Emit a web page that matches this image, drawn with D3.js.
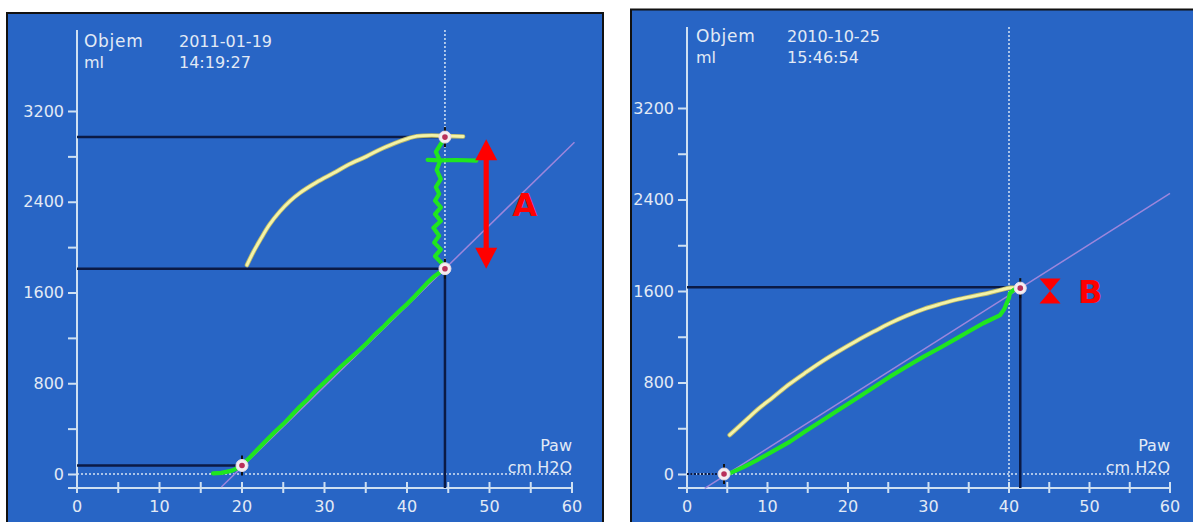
<!DOCTYPE html>
<html>
<head>
<meta charset="utf-8">
<script src="https://cdn.jsdelivr.net/npm/d3@7"></script>
<style>
  html, body { margin: 0; padding: 0; background: #ffffff; }
  svg { display: block; }
  text { font-family: "DejaVu Sans", sans-serif; }
</style>
</head>
<body>
<svg id="chart" width="1193" height="522"></svg>
<script>
// ---- axis ticks ----
const pressureTicks = [0, 10, 20, 30, 40, 50, 60];
const pressureMinorTicks = [5, 15, 25, 35, 45, 55];
const volumeTicks = [0, 800, 1600, 2400, 3200];
const volumeMinorTicks = [400, 1200, 2000, 2800];

// ---- panel A (2011-01-19): pressure [cmH2O], volume [ml] ----
const yellowLimbA = [
  [20.6, 1842], [21.4, 1960], [22.2, 2063], [23.3, 2195], [24.6, 2315], [25.8, 2405],
  [27.0, 2477], [29.0, 2570], [31.1, 2653], [33.0, 2730], [35.1, 2800], [37.0, 2870],
  [39.2, 2935], [40.2, 2960], [41.2, 2978], [43.0, 2985], [44.6, 2980], [46.8, 2975]
];
const greenLimbA = [
  [16.5, 5], [17.5, 10], [18.8, 30], [19.5, 55], [20.0, 80], [21.0, 150], [22.0, 225],
  [23.0, 300], [24.0, 372], [25.0, 440], [26.0, 515], [27.0, 593], [28.0, 662],
  [29.0, 740], [30.0, 808], [31.1, 885], [32.0, 948], [33.0, 1012], [34.0, 1078],
  [35.1, 1152], [36.0, 1222], [37.0, 1288], [38.0, 1362], [39.2, 1446], [40.0, 1498],
  [41.0, 1572], [42.4, 1681], [43.3, 1742], [44.6, 1810],
  [44.2, 1860], [43.4, 1920], [44.1, 1980], [43.3, 2040], [43.9, 2100], [43.2, 2170],
  [44.1, 2230], [43.4, 2290], [44.1, 2350], [43.4, 2410], [43.9, 2470], [43.5, 2530],
  [44.1, 2600], [43.6, 2680], [44.0, 2760], [43.5, 2840], [44.1, 2910], [44.6, 2970]
];
const greenSpurA = [[42.5, 2770], [44.0, 2765], [46.0, 2768], [48.4, 2762]];
const complianceLineA = [[17.5, -115], [60.3, 2925]];
const markersA = [[20.0, 75], [44.6, 1810], [44.6, 2970]];
const levelsA = [[75, 20.0], [1810, 44.6], [2970, 44.6]];   // [volume, pressure at end]
const cursorA = 44.6;
const dropA = [44.6, 1810];
const gapArrowA = { p: 49.6, from: 2950, to: 1810, labelP: 54.3, label: "A" };

// ---- panel B (2010-10-25) ----
const yellowLimbB = [
  [5.3, 341], [6.6, 424], [7.7, 495], [8.7, 560], [10.7, 672], [12.8, 790], [14.8, 890],
  [16.9, 990], [19.0, 1080], [21.1, 1165], [23.2, 1245], [25.2, 1318], [27.3, 1385],
  [29.4, 1442], [31.5, 1487], [33.5, 1525], [35.6, 1556], [37.6, 1585], [39.0, 1610],
  [40.1, 1628], [41.4, 1625]
];
const greenLimbB = [
  [4.9, 0], [5.3, 6], [7.0, 60], [8.7, 122], [10.7, 200], [12.8, 283], [14.8, 378],
  [16.9, 472], [19.0, 568], [21.1, 662], [23.2, 758], [25.2, 851], [27.3, 940],
  [29.4, 1026], [31.5, 1106], [33.5, 1186], [35.2, 1255], [36.8, 1318], [38.9, 1390],
  [39.4, 1440], [39.7, 1492], [40.0, 1540], [40.1, 1580], [40.6, 1610], [41.2, 1623]
];
const complianceLineB = [[2.2, -125], [60.0, 2454]];
const markersB = [[4.6, 0], [41.4, 1625]];
const levelsB = [[1632, 41.4]];
const cursorB = 40.0;
const dropB = [41.4, 1625];
const gapArrowB = { p: 45.1, from: 1600, to: 1600, labelP: 50.1, label: "B" };

const svg = d3.select("#chart");

const COL = {
  bg: "#2865c5",
  axis: "#cfe0f2",
  text: "#e2eaf5",
  dark: "#0b1a45",
  yellow: "#f4f3a8",
  yellowEdge: "#b9b86a",
  green: "#1fe61f",
  purple: "#9d86dc",
  red: "#ff0000"
};

function drawPanel(cfg) {
  const g = svg.append("g");

  // frame
  g.append("rect")
    .attr("x", cfg.frame[0]).attr("y", cfg.frame[1])
    .attr("width", cfg.frame[2]).attr("height", cfg.frame[3])
    .attr("fill", COL.bg).attr("stroke", "#111").attr("stroke-width", 2);

  const x = d3.scaleLinear().domain([0, 60]).range(cfg.xRange);
  const y = d3.scaleLinear().domain([0, 3200]).range(cfg.yRange);
  const axisY = y(0) + 14;
  const x0 = x(0);

  // y axis
  const yAxis = d3.axisLeft(y)
    .tickValues(volumeTicks.concat(volumeMinorTicks))
    .tickSize(9).tickPadding(4)
    .tickFormat(d => volumeTicks.includes(d) ? d : "");
  const ya = g.append("g").attr("transform", `translate(${x0},0)`).call(yAxis);
  ya.select(".domain").remove();
  ya.selectAll("line").attr("stroke", COL.axis).attr("stroke-width", 2);
  ya.selectAll("text").attr("fill", COL.text).attr("font-size", 16)
    .attr("font-family", "DejaVu Sans, sans-serif");
  g.append("line").attr("x1", x0).attr("x2", x0)
    .attr("y1", cfg.axisTop).attr("y2", axisY)
    .attr("stroke", COL.axis).attr("stroke-width", 2);

  // x axis
  g.append("line").attr("x1", x0 - 9).attr("x2", x(60))
    .attr("y1", axisY).attr("y2", axisY)
    .attr("stroke", COL.axis).attr("stroke-width", 2);
  const xa = g.append("g").attr("transform", `translate(0,${axisY})`);
  xa.selectAll("line.tk").data(pressureTicks.concat(pressureMinorTicks)).join("line")
    .attr("class", "tk")
    .attr("x1", d => x(d)).attr("x2", d => x(d))
    .attr("y1", -6).attr("y2", 5)
    .attr("stroke", COL.axis).attr("stroke-width", 2);
  xa.selectAll("text").data(pressureTicks).join("text")
    .attr("x", d => x(d)).attr("y", 24)
    .attr("text-anchor", "middle")
    .attr("fill", COL.text).attr("font-size", 16)
    .text(d => d);

  // header texts
  const hdr = g.append("g").attr("fill", COL.text).attr("font-size", 16);
  hdr.append("text").attr("x", x0 + cfg.hdrDx).attr("y", cfg.hdrY)
    .attr("font-size", 17).attr("letter-spacing", 0.7).text("Objem");
  hdr.append("text").attr("x", x0 + cfg.hdrDx).attr("y", cfg.hdrY + 21).text("ml");
  hdr.append("text").attr("x", x0 + cfg.dateDx).attr("y", cfg.hdrY).text(cfg.date);
  hdr.append("text").attr("x", x0 + cfg.dateDx).attr("y", cfg.hdrY + 21).text(cfg.time);
  hdr.append("text").attr("x", x(60)).attr("y", y(0) - 23)
    .attr("text-anchor", "end").text("Paw");
  hdr.append("text").attr("x", x(60)).attr("y", y(0) - 1)
    .attr("text-anchor", "end").text("cm H2O");

  // zero line (dotted)
  g.append("line").attr("x1", x0).attr("x2", x(60))
    .attr("y1", y(0)).attr("y2", y(0))
    .attr("stroke", "#d6e4f4").attr("stroke-width", 1.5)
    .attr("stroke-dasharray", "2,2");

  // cursor (dotted vertical)
  g.append("line").attr("x1", x(cfg.cursor)).attr("x2", x(cfg.cursor))
    .attr("y1", cfg.axisTop).attr("y2", axisY)
    .attr("stroke", "#d6e4f4").attr("stroke-width", 1.5)
    .attr("stroke-dasharray", "2,2");

  // reference levels
  g.selectAll("line.lvl").data(cfg.levels).join("line")
    .attr("class", "lvl")
    .attr("x1", x0).attr("x2", d => x(d[1]))
    .attr("y1", d => y(d[0])).attr("y2", d => y(d[0]))
    .attr("stroke", COL.dark).attr("stroke-width", 2.5);
  if (cfg.zeroLevel) {
    g.append("line").attr("x1", x0).attr("x2", x(cfg.zeroLevel))
      .attr("y1", y(0)).attr("y2", y(0))
      .attr("stroke", COL.dark).attr("stroke-width", 2)
      .attr("stroke-dasharray", "2,1.5");
  }
  g.append("line").attr("x1", x(cfg.drop[0])).attr("x2", x(cfg.drop[0]))
    .attr("y1", y(cfg.drop[1])).attr("y2", axisY)
    .attr("stroke", COL.dark).attr("stroke-width", 2.5);

  // compliance line
  const line = d3.line().x(d => x(d[0])).y(d => y(d[1]));
  const smooth = d3.line().x(d => x(d[0])).y(d => y(d[1])).curve(d3.curveCatmullRom.alpha(0.5));
  g.append("path").attr("d", line(cfg.compliance))
    .attr("fill", "none").attr("stroke", COL.purple).attr("stroke-width", 1.5);

  // loop limbs
  g.append("path").attr("d", smooth(cfg.yellow))
    .attr("fill", "none").attr("stroke", COL.yellowEdge).attr("stroke-width", 4.5)
    .attr("stroke-linejoin", "round").attr("stroke-linecap", "round");
  g.append("path").attr("d", smooth(cfg.yellow))
    .attr("fill", "none").attr("stroke", COL.yellow).attr("stroke-width", 2.8)
    .attr("stroke-linejoin", "round").attr("stroke-linecap", "round");
  cfg.green.forEach(seg => {
    g.append("path").attr("d", line(seg))
      .attr("fill", "none").attr("stroke", COL.green).attr("stroke-width", 4.2)
      .attr("stroke-linejoin", "round").attr("stroke-linecap", "round");
  });

  // markers
  const mk = g.selectAll("g.mk").data(cfg.markers).join("g")
    .attr("class", "mk")
    .attr("transform", d => `translate(${x(d[0])},${y(d[1])})`);
  mk.append("line").attr("y1", -10).attr("y2", 10)
    .attr("stroke", "#111").attr("stroke-width", 2);
  mk.append("circle").attr("r", 6).attr("fill", "#f4eef0")
    .attr("stroke", "#e8dce8").attr("stroke-width", 1);
  mk.append("circle").attr("r", 2.8).attr("fill", "#b8305a");

  // red gap marker
  const a = cfg.arrow;
  const ax = x(a.p);
  const hw = 11, hh = 21, sw = 2.6;
  const yt = y(a.from), yb = y(a.to);
  let d;
  if (yb - yt > 2 * hh) {
    d = `M${ax},${yt} L${ax + hw},${yt + hh} L${ax + sw},${yt + hh} L${ax + sw},${yb - hh}` +
        ` L${ax + hw},${yb - hh} L${ax},${yb} L${ax - hw},${yb - hh} L${ax - sw},${yb - hh}` +
        ` L${ax - sw},${yt + hh} L${ax - hw},${yt + hh} Z`;
  } else {
    const h = 12.5, w = 10.5;
    d = `M${ax - w},${yt - h} L${ax + w},${yt - h} L${ax},${yt} Z` +
        ` M${ax - w},${yb + h} L${ax + w},${yb + h} L${ax},${yb} Z`;
  }
  g.append("path").attr("d", d).attr("fill", COL.red);
  g.append("text")
    .attr("x", x(a.labelP))
    .attr("y", (yt + yb) / 2 + 11.5)
    .attr("text-anchor", "middle")
    .attr("fill", COL.red)
    .attr("font-family", "Liberation Sans, Arial, sans-serif")
    .attr("font-weight", "bold")
    .attr("font-size", 32)
    .text(a.label);
}

drawPanel({
  frame: [7, 13, 596, 520],
  xRange: [77, 572],
  yRange: [474, 111],
  axisTop: 30,
  hdrDx: 7, dateDx: 102, hdrY: 46.5,
  date: "2011-01-19", time: "14:19:27",
  cursor: cursorA,
  levels: levelsA,
  drop: dropA,
  compliance: complianceLineA,
  yellow: yellowLimbA,
  green: [greenLimbA, greenSpurA],
  markers: markersA,
  arrow: gapArrowA
});

drawPanel({
  frame: [631, 9.5, 570, 520],
  xRange: [687, 1170],
  yRange: [474, 108],
  axisTop: 27,
  hdrDx: 9, dateDx: 100, hdrY: 41.5,
  date: "2010-10-25", time: "15:46:54",
  cursor: cursorB,
  levels: levelsB,
  zeroLevel: markersB[0][0],
  drop: dropB,
  compliance: complianceLineB,
  yellow: yellowLimbB,
  green: [greenLimbB],
  markers: markersB,
  arrow: gapArrowB
});
</script>
</body>
</html>
